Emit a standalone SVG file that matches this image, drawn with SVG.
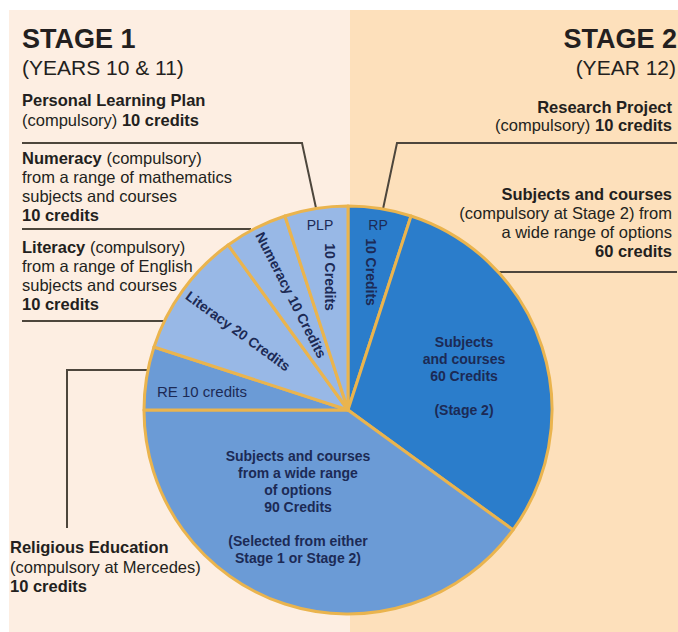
<svg xmlns="http://www.w3.org/2000/svg" width="678" height="632" viewBox="0 0 678 632">
<style>
.t{font-family:"Liberation Sans",Arial,sans-serif;fill:#231f20}
.b{font-weight:bold}
.s16{font-size:16.5px}
.p{font-family:"Liberation Sans",Arial,sans-serif;fill:#1c2a55}
.pb{font-weight:bold;font-size:14px}
.sl{stroke:#eab44e;stroke-width:3;stroke-linejoin:round}
.ld{fill:none;stroke:#4d463c;stroke-width:2}
</style>
<rect x="0" y="0" width="678" height="632" fill="#ffffff"/>
<rect x="9" y="10" width="341" height="622" fill="#fdeee2"/>
<rect x="350" y="10" width="328" height="622" fill="#fde0bb"/>

<g id="header-stage1">
<text class="t b" x="22" y="48" font-size="27">STAGE 1</text>
<text class="t" x="22" y="75" font-size="21">(YEARS 10 &amp; 11)</text>
</g>
<g id="header-stage2">
<text class="t b" x="677" y="48" font-size="27" text-anchor="end">STAGE 2</text>
<text class="t" x="676" y="75" font-size="21" text-anchor="end">(YEAR 12)</text>
</g>

<g id="connectors">
<path class="ld" d="M22 143 H302 L316 208" stroke-width="1.6"/>
<path class="ld" d="M22 229 H251" stroke-width="2.5"/>
<path class="ld" d="M22 321 H165"/>
<path class="ld" d="M67 528 V370 H148"/>
<path class="ld" d="M677 143 H397 L383 209"/>
<path class="ld" d="M498 272 H677" stroke-width="1.2"/>
</g>

<g id="label-plp">
<text class="t b s16" x="22" y="106">Personal Learning Plan</text>
<text class="t s16" x="22" y="126">(compulsory) <tspan class="b">10 credits</tspan></text>
</g>
<g id="label-numeracy">
<text class="t s16" x="22" y="164"><tspan class="b">Numeracy</tspan> (compulsory)</text>
<text class="t s16" x="22" y="183">from a range of mathematics</text>
<text class="t s16" x="22" y="202">subjects and courses</text>
<text class="t b s16" x="22" y="221">10 credits</text>
</g>
<g id="label-literacy">
<text class="t s16" x="22" y="253"><tspan class="b">Literacy</tspan> (compulsory)</text>
<text class="t s16" x="22" y="272">from a range of English</text>
<text class="t s16" x="22" y="291">subjects and courses</text>
<text class="t b s16" x="22" y="310">10 credits</text>
</g>
<g id="label-re">
<text class="t b s16" x="10" y="553">Religious Education</text>
<text class="t s16" x="10" y="573">(compulsory at Mercedes)</text>
<text class="t b s16" x="10" y="592">10 credits</text>
</g>
<g id="label-rp">
<text class="t b s16" x="672" y="113" text-anchor="end">Research Project</text>
<text class="t s16" x="672" y="131" text-anchor="end">(compulsory) <tspan class="b">10 credits</tspan></text>
</g>
<g id="label-s60">
<text class="t b s16" x="672" y="200" text-anchor="end">Subjects and courses</text>
<text class="t s16" x="672" y="219" text-anchor="end">(compulsory at Stage 2) from</text>
<text class="t s16" x="672" y="238" text-anchor="end">a wide range of options</text>
<text class="t b s16" x="672" y="257" text-anchor="end">60 credits</text>
</g>

<g id="slice-rp">
<path class="sl" fill="#2b7dcb" d="M348 410 L348 206 A204 204 0 0 1 411.04 215.98 Z"/>
<text class="p" x="378" y="230" font-size="14" text-anchor="middle">RP</text>
<text class="p pb" transform="translate(371 272) rotate(90)" text-anchor="middle" dy="0.35em">10 Credits</text>
</g>
<g id="slice-s60">
<path class="sl" fill="#2b7dcb" d="M348 410 L411.04 215.98 A204 204 0 0 1 513.04 529.91 Z"/>
<text class="p pb" x="464" y="347" text-anchor="middle">Subjects</text>
<text class="p pb" x="464" y="364" text-anchor="middle">and courses</text>
<text class="p pb" x="464" y="381" text-anchor="middle">60 Credits</text>
<text class="p pb" x="464" y="415" text-anchor="middle">(Stage 2)</text>
</g>
<g id="slice-s90">
<path class="sl" fill="#6b9bd6" d="M348 410 L513.04 529.91 A204 204 0 0 1 144 410 Z"/>
<text class="p pb" x="298" y="461" text-anchor="middle">Subjects and courses</text>
<text class="p pb" x="298" y="478" text-anchor="middle">from a wide range</text>
<text class="p pb" x="298" y="495" text-anchor="middle">of options</text>
<text class="p pb" x="298" y="512" text-anchor="middle">90 Credits</text>
<text class="p pb" x="298" y="546" text-anchor="middle">(Selected from either</text>
<text class="p pb" x="298" y="563" text-anchor="middle">Stage 1 or Stage 2)</text>
</g>
<g id="slice-re">
<path class="sl" fill="#6b9bd6" d="M348 410 L144 410 A204 204 0 0 1 153.98 346.96 Z"/>
<text class="p" x="157" y="397" font-size="15">RE 10 credits</text>
</g>
<g id="slice-literacy">
<path class="sl" fill="#98b8e6" d="M348 410 L153.98 346.96 A204 204 0 0 1 228.09 244.96 Z"/>
<text class="p pb" transform="translate(238 331) rotate(36)" text-anchor="middle" dy="0.35em">Literacy 20 Credits</text>
</g>
<g id="slice-numeracy">
<path class="sl" fill="#98b8e6" d="M348 410 L228.09 244.96 A204 204 0 0 1 284.96 215.98 Z"/>
<text class="p pb" transform="translate(291 295) rotate(63)" text-anchor="middle" dy="0.35em">Numeracy 10 Credits</text>
</g>
<g id="slice-plp">
<path class="sl" fill="#98b8e6" d="M348 410 L284.96 215.98 A204 204 0 0 1 348 206 Z"/>
<text class="p" x="320" y="230" font-size="14" text-anchor="middle">PLP</text>
<text class="p pb" transform="translate(330 277) rotate(90)" text-anchor="middle" dy="0.35em">10 Credits</text>
</g>
</svg>
